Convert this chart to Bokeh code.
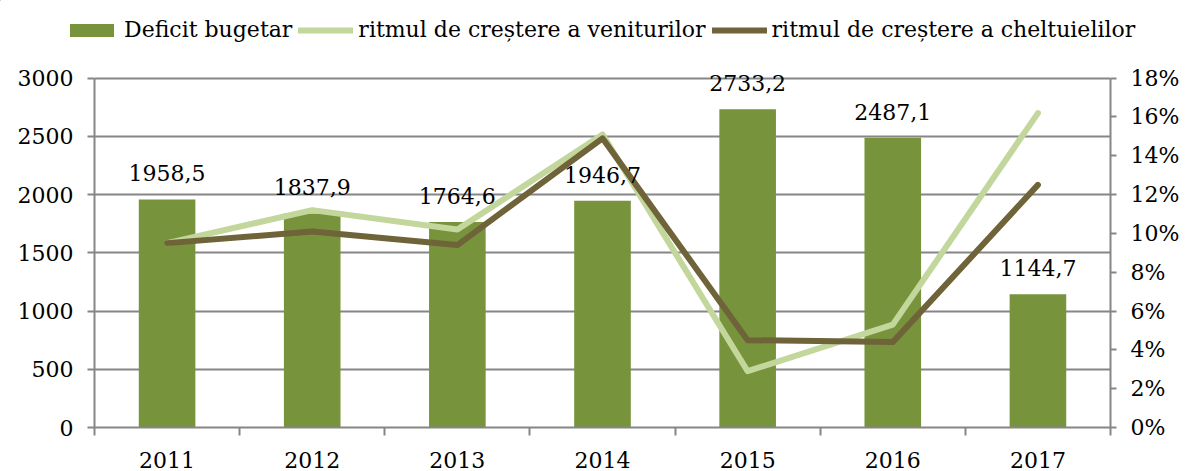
from bokeh.plotting import figure
from bokeh.models import (Range1d, LinearAxis, FixedTicker, PrintfTickFormatter,
                          Legend, LegendItem, ColumnDataSource, LabelSet)
from bokeh.core.properties import value
from bokeh.embed import file_html
from bokeh.resources import INLINE

# ---- data ----
years = ["2011", "2012", "2013", "2014", "2015", "2016", "2017"]
deficit = [1958.5, 1837.9, 1764.6, 1946.7, 2733.2, 2487.1, 1144.7]
rev_growth = [9.5, 11.2, 10.2, 15.1, 2.9, 5.3, 16.2]      # %
exp_growth = [9.5, 10.1, 9.4, 14.9, 4.5, 4.4, 12.5]       # %
left_ticks = [0, 500, 1000, 1500, 2000, 2500, 3000]
right_ticks = [0, 2, 4, 6, 8, 10, 12, 14, 16, 18]
series_names = ["Deficit bugetar", "ritmul de creștere a veniturilor",
                "ritmul de creștere a cheltuielilor"]

FONT = "DejaVu Serif"
FS = "22px"
GRAY = "#868686"
BAR = "#77933C"
LIGHT = "#C3D69B"
DARK = "#6F6439"

idx = list(range(len(years)))
src = ColumnDataSource(dict(
    x=idx, deficit=deficit, rev=rev_growth, exp=exp_growth,
    label=[f"{v:.1f}".replace(".", ",") for v in deficit],
))

# ---------------- legend strip (series kept out of view; only the legend shows) -----
top = figure(width=1188, height=60, output_backend="svg", toolbar_location=None,
             x_range=Range1d(1000, 1001), y_range=Range1d(-2000, -1000),
             x_axis_location=None, y_axis_location=None,
             min_border=0, min_border_left=0, min_border_right=0,
             min_border_top=0, min_border_bottom=0)
top.grid.visible = False
top.outline_line_color = None
lb = top.vbar(x="x", top="deficit", width=0.39, source=src, fill_color=BAR, line_color=None)
ll = top.line(x="x", y="rev", source=src, line_color=LIGHT, line_width=6, line_cap="round")
ldk = top.line(x="x", y="exp", source=src, line_color=DARK, line_width=6, line_cap="round")
legend = Legend(items=[
    LegendItem(label=series_names[0], renderers=[lb]),
    LegendItem(label=series_names[1], renderers=[ll]),
    LegendItem(label=series_names[2], renderers=[ldk]),
], orientation="horizontal", location=(64, 18), glyph_width=55, glyph_height=16,
    label_height=22, label_standoff=5, spacing=6, padding=0, margin=0,
    label_text_font=FONT, label_text_font_size=FS, label_text_color="black",
    border_line_color=None, background_fill_alpha=0)
top.add_layout(legend)

# ---------------- main chart ----------------
# a little headroom above 3000 so the top data label is not clipped; axes bounded at 3000 / 18%
p = figure(width=1188, height=421,
           x_range=Range1d(-0.5, len(years) - 0.5), y_range=Range1d(0, 3100),
           output_backend="svg", toolbar_location=None,
           min_border_left=94, min_border_right=78, min_border_top=6,
           min_border_bottom=54)
p.outline_line_color = None
p.extra_y_ranges = {"pct": Range1d(0, 18.6)}

bars = p.vbar(x="x", top="deficit", width=0.39, source=src,
              fill_color=BAR, line_color=None)
lr = p.line(x="x", y="rev", source=src, y_range_name="pct", line_color=LIGHT,
            line_width=6, line_join="round", line_cap="round")
ld = p.line(x="x", y="exp", source=src, y_range_name="pct", line_color=DARK,
            line_width=6, line_join="round", line_cap="round")

labels = LabelSet(x="x", y="deficit", text="label", source=src, text_align="center",
                  text_baseline="middle", y_offset=26, text_font=value(FONT),
                  text_font_size=value(FS), text_color="black")
p.add_layout(labels)

p.xgrid.grid_line_color = None
p.ygrid.ticker = FixedTicker(ticks=left_ticks)
p.ygrid.grid_line_color = GRAY
p.ygrid.grid_line_width = 2

ya = p.yaxis[0]
ya.ticker = FixedTicker(ticks=left_ticks)
ya.bounds = (left_ticks[0], left_ticks[-1])
ya.axis_line_color = GRAY
ya.axis_line_width = 2
ya.major_tick_line_color = GRAY
ya.major_tick_line_width = 2
ya.major_tick_out = 7
ya.major_tick_in = 0
ya.minor_tick_line_color = None
ya.major_label_standoff = 14
ya.major_label_text_font = FONT
ya.major_label_text_font_size = FS
ya.major_label_text_color = "black"

xa = p.xaxis[0]
xa.ticker = FixedTicker(ticks=idx, minor_ticks=[i - 0.5 for i in range(len(years) + 1)])
xa.major_label_overrides = {i: y for i, y in zip(idx, years)}
xa.axis_line_color = GRAY
xa.axis_line_width = 2
xa.major_tick_line_color = None
xa.minor_tick_line_color = GRAY
xa.minor_tick_line_width = 2
xa.minor_tick_out = 8
xa.minor_tick_in = 0
xa.major_tick_out = 8
xa.major_label_standoff = 16
xa.major_label_text_font = FONT
xa.major_label_text_font_size = FS
xa.major_label_text_color = "black"

ra = LinearAxis(y_range_name="pct", ticker=FixedTicker(ticks=right_ticks),
                formatter=PrintfTickFormatter(format="%d%%"))
ra.bounds = (right_ticks[0], right_ticks[-1])
ra.axis_line_color = GRAY
ra.axis_line_width = 2
ra.major_tick_line_color = GRAY
ra.major_tick_line_width = 2
ra.major_tick_out = 6
ra.major_tick_in = 0
ra.minor_tick_line_color = None
ra.major_label_standoff = 14
ra.major_label_text_font = FONT
ra.major_label_text_font_size = FS
ra.major_label_text_color = "black"
p.add_layout(ra, "right")

open("out.html", "w").write(file_html([top, p], INLINE))
